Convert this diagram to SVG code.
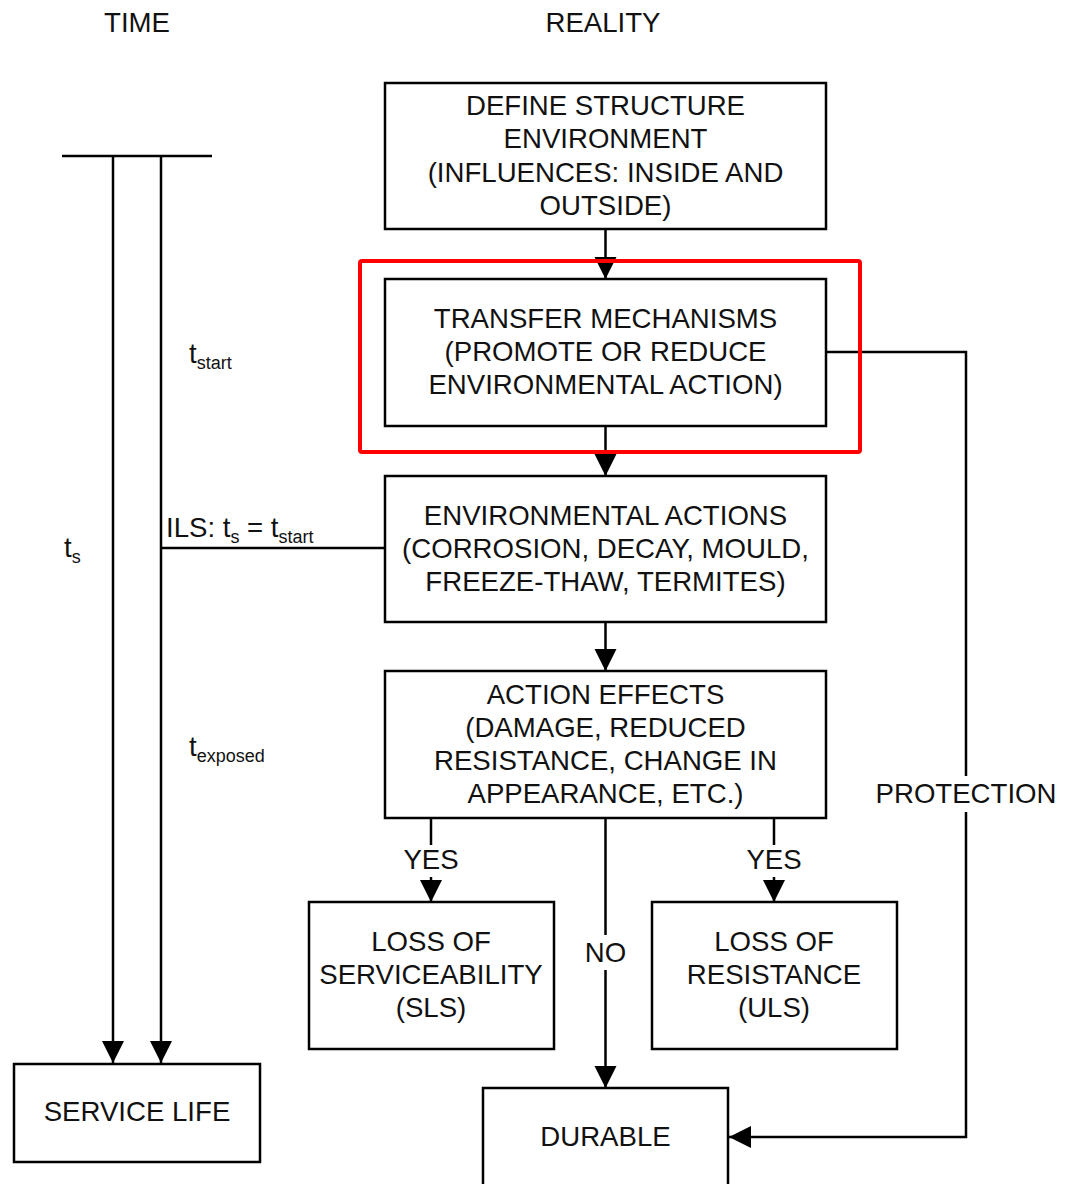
<svg xmlns="http://www.w3.org/2000/svg" width="1065" height="1184" viewBox="0 0 1065 1184">
<defs>
<marker id="ah" markerUnits="userSpaceOnUse" markerWidth="24" markerHeight="26" refX="22" refY="11" orient="auto">
<path d="M0,0 L22,11 L0,22 Z" fill="#000"/>
</marker>
<style>
.box{fill:#fff;stroke:#000;stroke-width:2.5}
.ln{fill:none;stroke:#000;stroke-width:2.5}
text{font-family:"Liberation Sans",Arial,sans-serif;font-size:27.6px;fill:#111;text-anchor:middle}
.l{text-anchor:start}
.sub{font-size:18px}
</style>
</defs>
<rect width="1065" height="1184" fill="#fff"/>
<text x="137" y="32">TIME</text>
<text x="603" y="32">REALITY</text>

<g id="connectors">
<line class="ln" x1="62" y1="156" x2="212" y2="156"/>
<line class="ln" x1="113" y1="156" x2="113" y2="1063" marker-end="url(#ah)"/>
<line class="ln" x1="161" y1="156" x2="161" y2="1063" marker-end="url(#ah)"/>
<line class="ln" x1="161" y1="548" x2="385" y2="548"/>
<line class="ln" x1="605.5" y1="229" x2="605.5" y2="279" marker-end="url(#ah)"/>
<line class="ln" x1="605.5" y1="426" x2="605.5" y2="476" marker-end="url(#ah)"/>
<line class="ln" x1="605.5" y1="622" x2="605.5" y2="671" marker-end="url(#ah)"/>
<line class="ln" x1="431" y1="818" x2="431" y2="845"/>
<line class="ln" x1="431" y1="877" x2="431" y2="902" marker-end="url(#ah)"/>
<line class="ln" x1="774" y1="818" x2="774" y2="845"/>
<line class="ln" x1="774" y1="877" x2="774" y2="902" marker-end="url(#ah)"/>
<line class="ln" x1="605.5" y1="818" x2="605.5" y2="935"/>
<line class="ln" x1="605.5" y1="970" x2="605.5" y2="1088" marker-end="url(#ah)"/>
<polyline class="ln" points="826,352 966,352 966,776"/>
<polyline class="ln" points="966,812 966,1137 729,1137" marker-end="url(#ah)"/>
<text x="431" y="869">YES</text>
<text x="774" y="869">YES</text>
<text x="605.5" y="962">NO</text>
<text x="966" y="803">PROTECTION</text>
</g>

<g id="time-labels">
<text class="l" x="189" y="363" font-size="26">t<tspan class="sub" dy="6">start</tspan></text>
<text class="l" x="64" y="557" font-size="26">t<tspan class="sub" dy="6">s</tspan></text>
<text class="l" x="166" y="537">ILS: t<tspan class="sub" dy="6">s</tspan><tspan dy="-6"> = t</tspan><tspan class="sub" dy="6">start</tspan></text>
<text class="l" x="189" y="756" font-size="26">t<tspan class="sub" dy="6">exposed</tspan></text>
</g>

<g id="define">
<rect class="box" x="385" y="83" width="441" height="146"/>
<text x="605.5" y="115">DEFINE STRUCTURE</text>
<text x="605.5" y="148">ENVIRONMENT</text>
<text x="605.5" y="182">(INFLUENCES: INSIDE AND</text>
<text x="605.5" y="215">OUTSIDE)</text>
</g>

<g id="transfer">
<rect class="box" x="385" y="279" width="441" height="147"/>
<text x="605.5" y="328">TRANSFER MECHANISMS</text>
<text x="605.5" y="361">(PROMOTE OR REDUCE</text>
<text x="605.5" y="394">ENVIRONMENTAL ACTION)</text>
</g>

<g id="highlight">
<rect x="360" y="261" width="500" height="191" fill="none" stroke="#ff0000" stroke-width="4" rx="2"/>
</g>

<g id="env-actions">
<rect class="box" x="385" y="476" width="441" height="146"/>
<text x="605.5" y="525">ENVIRONMENTAL ACTIONS</text>
<text x="605.5" y="558">(CORROSION, DECAY, MOULD,</text>
<text x="605.5" y="591">FREEZE-THAW, TERMITES)</text>
</g>

<g id="action-effects">
<rect class="box" x="385" y="671" width="441" height="147"/>
<text x="605.5" y="704">ACTION EFFECTS</text>
<text x="605.5" y="737">(DAMAGE, REDUCED</text>
<text x="605.5" y="770">RESISTANCE, CHANGE IN</text>
<text x="605.5" y="803">APPEARANCE, ETC.)</text>
</g>

<g id="sls">
<rect class="box" x="309" y="902" width="245" height="147"/>
<text x="431" y="951">LOSS OF</text>
<text x="431" y="984">SERVICEABILITY</text>
<text x="431" y="1017">(SLS)</text>
</g>

<g id="uls">
<rect class="box" x="652" y="902" width="245" height="147"/>
<text x="774" y="951">LOSS OF</text>
<text x="774" y="984">RESISTANCE</text>
<text x="774" y="1017">(ULS)</text>
</g>

<g id="service-life">
<rect class="box" x="14" y="1064" width="246" height="98"/>
<text x="137" y="1121">SERVICE LIFE</text>
</g>

<g id="durable">
<rect class="box" x="483" y="1088" width="245" height="110"/>
<text x="605.5" y="1146">DURABLE</text>
</g>
</svg>
